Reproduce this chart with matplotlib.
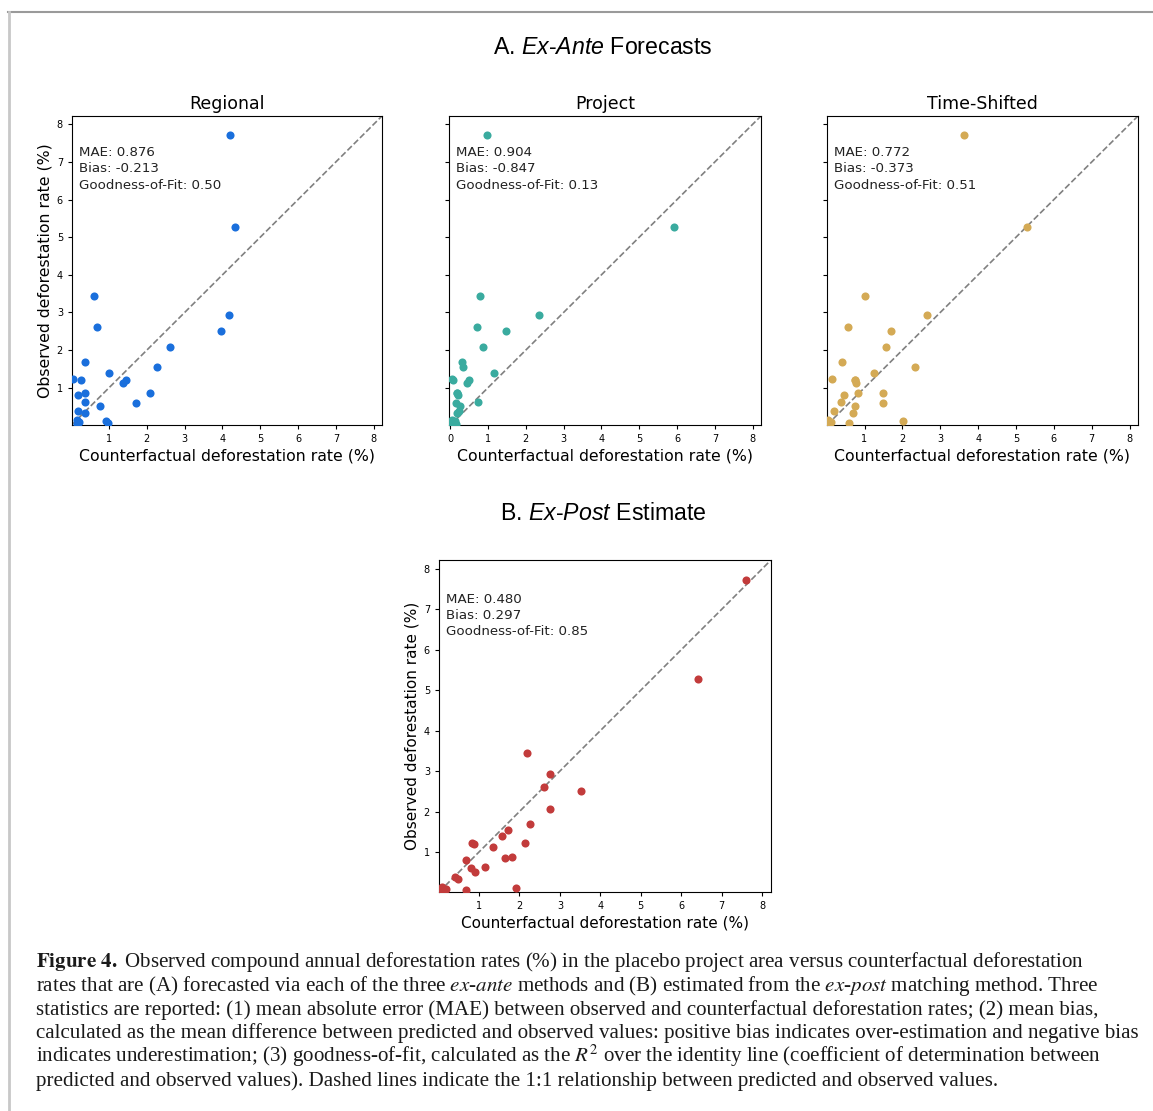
import matplotlib
matplotlib.use("Agg")
import matplotlib.pyplot as plt
from matplotlib.lines import Line2D

# ---------------- DATA ----------------
# observed compound annual deforestation rate (%), one value per placebo area
observed = [7.72, 5.27, 3.44, 2.94, 2.61, 2.50, 2.07, 1.68, 1.55, 1.39, 1.22, 1.21, 1.20, 1.12,
            0.87, 0.85, 0.81, 0.63, 0.60, 0.51, 0.38, 0.32, 0.14, 0.12, 0.08, 0.05, 0.04]

# counterfactual rate (%) for each method, same order as observed
regional = [4.19, 4.34, 0.61, 4.17, 0.67, 3.97, 2.60, 0.37, 2.28, 1.01, 0.05, 1.46, 0.25, 1.38,
            2.08, 0.36, 0.18, 0.36, 1.72, 0.77, 0.19, 0.36, 0.14, 0.91, 0.20, 0.98, 0.15]
project = [0.97, 5.91, 0.80, 2.36, 0.70, 1.47, 0.87, 0.31, 0.35, 1.17, 0.05, 0.49, 0.07, 0.44,
           0.19, 0.17, 0.20, 0.73, 0.16, 0.25, 0.23, 0.18, 0.04, 0.12, 0.11, 0.00, 0.15]
time_shifted = [3.62, 5.29, 1.01, 2.65, 0.56, 1.70, 1.58, 0.40, 2.33, 1.26, 0.14, 0.75, 0.76, 0.77,
                1.50, 0.82, 0.45, 0.38, 1.50, 0.74, 0.19, 0.70, 0.03, 2.01, 0.12, 0.60, 0.05]
ex_post = [7.60, 6.41, 2.19, 2.76, 2.60, 3.52, 2.76, 2.25, 1.72, 1.57, 2.14, 0.83, 0.88, 1.35,
           1.81, 1.64, 0.69, 1.14, 0.79, 0.90, 0.40, 0.48, 0.09, 1.92, 0.19, 0.69, 0.07]

panel_names = ["Regional", "Project", "Time-Shifted"]
mae_vals = ["0.876", "0.904", "0.772", "0.480"]
bias_vals = ["-0.213", "-0.847", "-0.373", "0.297"]
gof_vals = ["0.50", "0.13", "0.51", "0.85"]
ticks = [1, 2, 3, 4, 5, 6, 7, 8]

caption_lines = [
    r"$\mathbf{Figure\ 4.}\ $Observed compound annual deforestation rates (%) in the placebo project area versus counterfactual deforestation",
    r"rates that are (A) forecasted via each of the three $\mathit{ex}$-$\mathit{ante}$ methods and (B) estimated from the $\mathit{ex}$-$\mathit{post}$ matching method. Three",
    "statistics are reported: (1) mean absolute error (MAE) between observed and counterfactual deforestation rates; (2) mean bias,",
    "calculated as the mean difference between predicted and observed values: positive bias indicates over-estimation and negative bias",
    r"indicates underestimation; (3) goodness-of-fit, calculated as the $R^2$ over the identity line (coefficient of determination between",
    "predicted and observed values). Dashed lines indicate the 1:1 relationship between predicted and observed values.",
]

# ---------------- STYLE ----------------
plt.rcParams["mathtext.fontset"] = "custom"
plt.rcParams["mathtext.rm"] = "Liberation Sans"
plt.rcParams["mathtext.it"] = "Liberation Sans:italic"
plt.rcParams["mathtext.bf"] = "Liberation Sans:bold"

colors = ["#1a6fdc", "#3aab9f", "#d4aa55", "#c23b3b"]
W, H = 1153, 1111
fig = plt.figure(figsize=(W / 100, H / 100), dpi=100)


def px(l, t, r, b):
    return [l / W, 1 - b / H, (r - l) / W, (b - t) / H]


def scatter_panel(ax, x, y, color, i, xlo, fs_tick, fs_lab, ylabel=True, yticklabels=True):
    ax.scatter(x, y, s=34, color=color, zorder=3, linewidths=0)
    ax.axline((0, 0), slope=1, color="gray", ls="--", lw=1.2, zorder=2)
    ax.set_xlim(xlo, 8.22)
    ax.set_ylim(0.01, 8.22)
    ax.set_xticks(([0] if xlo < 0 else []) + ticks)
    ax.set_yticks(ticks)
    ax.tick_params(labelsize=fs_tick, length=3, width=0.8)
    if not yticklabels:
        ax.tick_params(labelleft=False)
    ax.set_xlabel("Counterfactual deforestation rate (%)", fontsize=fs_lab, labelpad=3)
    if ylabel:
        ax.set_ylabel("Observed deforestation rate (%)", fontsize=fs_lab, labelpad=3)
    txt = f"MAE: {mae_vals[i]}\nBias: {bias_vals[i]}\nGoodness-of-Fit: {gof_vals[i]}"
    ax.text(0.022, 0.902, txt, transform=ax.transAxes, ha="left", va="top",
            fontsize=9.6, linespacing=1.32, color="#222222")


# ---------------- PANEL A ----------------
boxes = [px(72, 116, 382, 425), px(449, 116, 761, 425), px(827, 116, 1138, 425)]
series = [regional, project, time_shifted]
xlows = [0.02, -0.03, 0.01]
for i in range(3):
    ax = fig.add_axes(boxes[i])
    scatter_panel(ax, series[i], observed, colors[i], i, xlows[i], 7, 11.3,
                  ylabel=(i == 0), yticklabels=(i == 0))
    ax.set_title(panel_names[i], fontsize=12.5, pad=5)

fig.text(603 / W, 1 - 48 / H, r"A. $\mathit{Ex}$-$\mathit{Ante}$ Forecasts", ha="center", va="center",
         fontsize=16.7, family="Liberation Sans")

# ---------------- PANEL B ----------------
fig.text(603 / W, 1 - 513 / H, r"B. $\mathit{Ex}$-$\mathit{Post}$ Estimate", ha="center", va="center",
         fontsize=16.7, family="Liberation Sans")
axb = fig.add_axes(px(439, 560, 771, 892))
scatter_panel(axb, ex_post, observed, colors[3], 3, 0.01, 7, 11)

# ---------------- CAPTION ----------------
baselines = [967, 991, 1014.5, 1038, 1062, 1086]
for line, yb in zip(caption_lines, baselines):
    fig.text(36 / W, 1 - yb / H, line, ha="left", va="baseline", fontsize=15.1,
             family="Liberation Serif", math_fontfamily="stix", color="#1a1a1a")

# frame lines round the figure
fig.add_artist(Line2D([8 / W, 1], [1 - 11.5 / H, 1 - 11.5 / H], transform=fig.transFigure,
                      color="#9a9a9a", lw=1.5))
fig.add_artist(Line2D([8.5 / W, 8.5 / W], [0, 1 - 11.5 / H], transform=fig.transFigure,
                      color="#c8c8c8", lw=2))

fig.savefig("out.png", dpi=100)
